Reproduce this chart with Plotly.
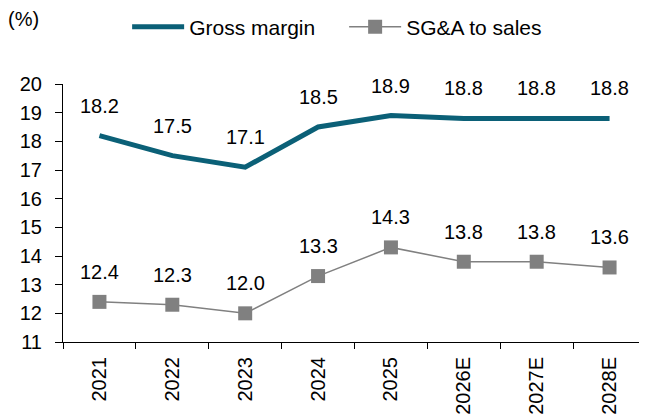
import plotly.graph_objects as go

years = ["2021", "2022", "2023", "2024", "2025", "2026E", "2027E", "2028E"]
gross_margin = [18.2, 17.5, 17.1, 18.5, 18.9, 18.8, 18.8, 18.8]
sga_to_sales = [12.4, 12.3, 12.0, 13.3, 14.3, 13.8, 13.8, 13.6]

FONT = "Liberation Sans, Arial, sans-serif"
FS = 20
GM_COLOR = "#0B6077"
SGA_COLOR = "#808080"
LABEL_SHIFT = 30

fig = go.Figure()
fig.add_trace(go.Scatter(
    x=years, y=gross_margin, mode="lines", name="Gross margin",
    line=dict(color=GM_COLOR, width=5),
))
fig.add_trace(go.Scatter(
    x=years, y=sga_to_sales, mode="lines+markers", name="SG&A to sales",
    line=dict(color=SGA_COLOR, width=1.5),
    marker=dict(symbol="square", size=14, color=SGA_COLOR),
))

for series in (gross_margin, sga_to_sales):
    for i, v in enumerate(series):
        fig.add_annotation(x=i, y=v, text=f"{v:.1f}", showarrow=False,
                           yshift=LABEL_SHIFT,
                           font=dict(family=FONT, size=FS, color="#000"))

fig.add_annotation(xref="paper", yref="paper", x=-0.098, y=1.252, xanchor="left",
                   yanchor="middle", text="(%)", showarrow=False,
                   font=dict(family=FONT, size=FS, color="#000"))

fig.update_layout(
    width=647, height=417,
    margin=dict(l=55, r=9, t=76, b=83, autoexpand=False),
    paper_bgcolor="white", plot_bgcolor="white",
    font=dict(family=FONT, size=FS, color="#000"),
    showlegend=True,
    legend=dict(orientation="h", x=0.110, y=1.221, xanchor="left", yanchor="middle",
                font=dict(family=FONT, size=21), itemwidth=52,
                entrywidth=150, entrywidthmode="pixels",
                bgcolor="rgba(0,0,0,0)"),
    xaxis=dict(type="category", range=[-0.5, len(years) - 0.5],
               showline=True, linecolor="#000", linewidth=1,
               ticks="outside", tickson="boundaries", ticklen=6, tickcolor="#000",
               tickangle=-90, showgrid=False, zeroline=False, ticklabelstandoff=6,
               tickfont=dict(family=FONT, size=FS)),
    yaxis=dict(range=[11, 20], dtick=1, showline=True, linecolor="#000", linewidth=1,
               ticks="outside", ticklen=7, tickcolor="#000", showgrid=False,
               zeroline=False, ticklabelstandoff=9,
               tickfont=dict(family=FONT, size=FS)),
)

fig.write_html("out.html")
